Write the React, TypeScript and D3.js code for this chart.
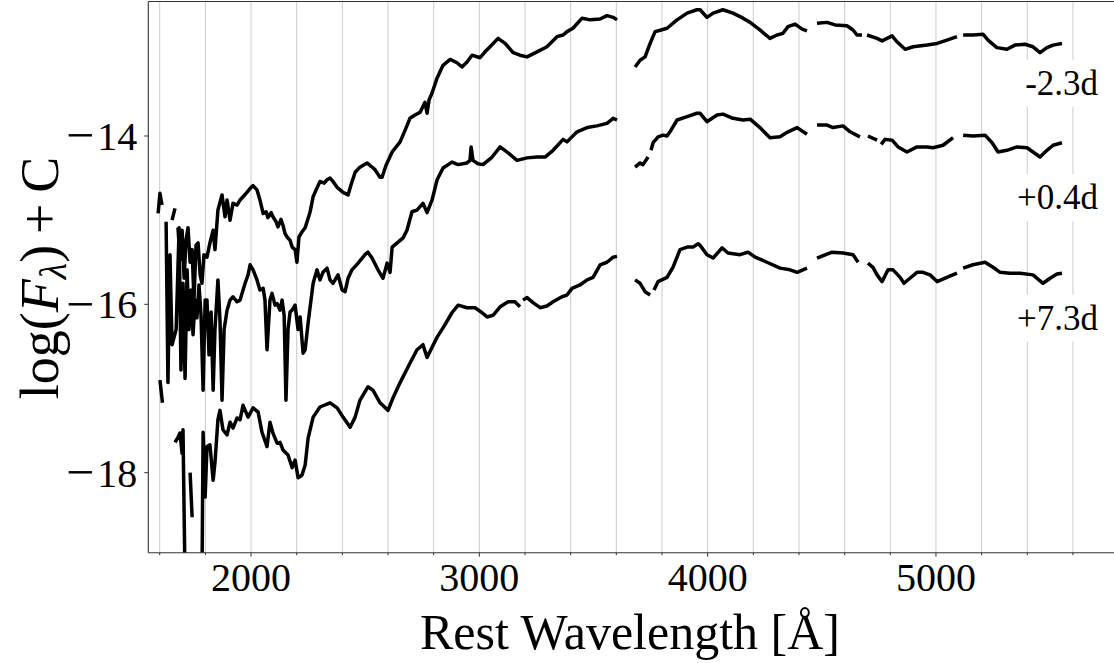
import React, { useEffect, useRef } from "react";
import * as d3 from "d3";

type Pt = [number, number] | null;

// Spectrum at -2.3 d : [rest wavelength (Å), log F + C]; null = gap
const spectrumMinus2p3: Pt[] = [
  [1593, -14.92], [1601, -14.68], [1610, -14.82], null,
  [1654, -15.0], [1667, -14.86], null,
  [1680, -15.09], [1689, -15.47], [1698, -15.12], [1707, -15.69], [1715, -15.24], [1724, -15.09], [1733, -15.5], [1742, -15.35], [1750, -15.95], [1759, -15.3], [1768, -15.27], [1777, -15.65], [1785, -15.75], [1794, -15.41], [1807, -15.44], [1820, -15.27], [1834, -15.12], [1842, -15.35], [1855, -14.88], [1873, -14.7], [1886, -14.96], [1895, -14.76], [1908, -15.0], [1921, -14.8], [1939, -14.82], [1952, -14.76], [1969, -14.71], [1982, -14.67], [2000, -14.61], [2009, -14.59], [2026, -14.64], [2039, -14.76], [2053, -14.92], [2066, -14.9], [2074, -14.97], [2088, -14.91], [2096, -14.96], [2110, -15.02], [2118, -15.08], [2131, -14.99], [2140, -15.06], [2149, -15.16], [2158, -15.2], [2171, -15.24], [2180, -15.32], [2193, -15.35], [2201, -15.5], [2210, -15.2], [2223, -15.14], [2237, -15.09], [2258, -14.91], [2272, -14.72], [2285, -14.64], [2302, -14.54], [2320, -14.56], [2333, -14.52], [2346, -14.5], [2359, -14.54], [2377, -14.61], [2403, -14.67], [2425, -14.7], [2438, -14.58], [2456, -14.43], [2477, -14.37], [2508, -14.32], [2526, -14.36], [2543, -14.4], [2565, -14.49], [2574, -14.49], [2591, -14.35], [2618, -14.19], [2653, -14.07], [2675, -13.93], [2696, -13.79], [2718, -13.75], [2740, -13.72], [2762, -13.6], [2771, -13.73], [2780, -13.57], [2793, -13.49], [2815, -13.31], [2841, -13.16], [2872, -13.09], [2902, -13.13], [2924, -13.18], [2946, -13.12], [2968, -13.04], [3003, -13.07], [3025, -13.0], [3047, -12.94], [3082, -12.84], [3113, -12.9], [3148, -13.01], [3178, -13.04], [3209, -13.06], [3253, -13.0], [3296, -12.94], [3340, -12.82], [3367, -12.8], [3384, -12.76], [3410, -12.72], [3450, -12.6], [3485, -12.62], [3529, -12.61], [3559, -12.57], [3586, -12.59], [3603, -12.62], null,
  [3682, -13.18], [3704, -13.1], [3726, -13.06], [3748, -12.9], [3770, -12.76], [3796, -12.74], [3822, -12.72], [3866, -12.62], [3910, -12.54], [3953, -12.5], [3967, -12.5], [3997, -12.59], [4024, -12.54], [4067, -12.5], [4111, -12.54], [4155, -12.6], [4186, -12.65], [4229, -12.74], [4273, -12.84], [4304, -12.8], [4330, -12.78], [4352, -12.7], [4383, -12.67], [4414, -12.73], [4435, -12.75], null,
  [4479, -12.66], [4523, -12.65], [4558, -12.68], [4610, -12.69], [4637, -12.74], [4654, -12.8], [4676, -12.8], null,
  [4698, -12.8], [4742, -12.84], [4764, -12.87], [4808, -12.81], [4829, -12.88], [4865, -12.97], [4900, -12.94], [4961, -12.92], [5005, -12.9], [5048, -12.86], [5092, -12.82], null,
  [5119, -12.8], [5162, -12.8], [5206, -12.79], [5228, -12.86], [5267, -12.95], [5311, -12.97], [5346, -12.92], [5390, -12.91], [5425, -12.94], [5456, -13.01], [5486, -12.95], [5513, -12.92], [5552, -12.9],
];

// Spectrum at +0.4 d
const spectrumPlus0p4: Pt[] = [
  [1601, -16.9], [1612, -17.17], null,
  [1628, -15.02], [1636, -16.93], [1645, -15.41], [1654, -16.48], [1672, -16.3], [1685, -15.09], [1693, -16.78], [1702, -15.75], [1711, -16.88], [1720, -15.59], [1728, -16.3], [1737, -15.83], [1746, -16.36], [1755, -15.95], [1763, -16.16], [1772, -15.77], [1781, -16.13], [1790, -17.02], [1799, -15.95], [1807, -15.95], [1816, -16.6], [1825, -16.09], [1834, -17.02], [1842, -16.3], [1855, -15.71], [1864, -16.19], [1873, -17.14], [1882, -16.3], [1895, -16.07], [1908, -15.95], [1921, -15.91], [1939, -15.97], [1952, -15.95], [1965, -15.83], [1974, -15.75], [1987, -15.65], [1996, -15.53], [2009, -15.59], [2026, -15.71], [2039, -15.83], [2053, -15.81], [2061, -15.95], [2070, -16.54], [2083, -15.95], [2092, -15.87], [2105, -16.01], [2114, -15.99], [2127, -16.07], [2136, -15.95], [2145, -16.13], [2153, -17.14], [2162, -16.3], [2171, -16.09], [2180, -16.07], [2193, -16.01], [2206, -16.3], [2215, -16.15], [2228, -16.58], [2237, -16.54], [2250, -16.22], [2272, -15.75], [2289, -15.59], [2302, -15.71], [2315, -15.62], [2333, -15.57], [2346, -15.71], [2359, -15.75], [2381, -15.65], [2399, -15.83], [2412, -15.85], [2425, -15.69], [2442, -15.59], [2469, -15.51], [2499, -15.41], [2512, -15.38], [2530, -15.45], [2556, -15.59], [2578, -15.69], [2596, -15.51], [2609, -15.62], [2618, -15.32], [2644, -15.26], [2666, -15.21], [2683, -15.12], [2705, -14.9], [2727, -14.88], [2753, -14.8], [2771, -14.91], [2793, -14.76], [2815, -14.52], [2841, -14.38], [2880, -14.31], [2907, -14.34], [2946, -14.32], [2959, -14.29], [2964, -14.13], [2972, -14.29], [2994, -14.33], [3016, -14.34], [3056, -14.25], [3091, -14.13], [3126, -14.2], [3165, -14.29], [3209, -14.26], [3253, -14.25], [3288, -14.25], [3323, -14.17], [3367, -14.04], [3384, -14.07], [3428, -13.95], [3472, -13.9], [3515, -13.88], [3559, -13.85], [3586, -13.79], [3603, -13.81], null,
  [3682, -14.37], [3704, -14.32], [3717, -14.34], [3739, -14.25], null,
  [3752, -14.17], [3761, -14.08], [3783, -14.01], [3805, -13.99], [3822, -14.0], [3835, -13.95], [3866, -13.81], [3910, -13.77], [3953, -13.73], [3967, -13.73], [3997, -13.83], [4041, -13.75], [4067, -13.74], [4111, -13.79], [4155, -13.81], [4186, -13.8], [4229, -13.9], [4273, -14.02], [4317, -14.01], [4352, -13.95], [4392, -13.9], [4435, -13.98], null,
  [4479, -13.87], [4523, -13.87], [4549, -13.9], [4593, -13.88], [4624, -13.95], [4667, -14.01], null,
  [4702, -14.0], [4742, -14.05], null,
  [4760, -14.1], [4777, -14.04], [4808, -14.05], [4834, -14.13], [4873, -14.19], [4917, -14.13], [4961, -14.13], [4987, -14.14], [5031, -14.11], [5075, -14.02], null,
  [5119, -13.99], [5162, -14.0], [5215, -13.99], [5246, -14.08], [5272, -14.19], [5311, -14.17], [5355, -14.13], [5399, -14.14], [5425, -14.19], [5456, -14.25], [5486, -14.17], [5513, -14.11], [5552, -14.08],
];

// Spectrum at +7.3 d
const spectrumPlus7p3: Pt[] = [
  [1667, -17.64], [1680, -17.58], [1689, -17.53], [1698, -17.77], [1702, -17.49], [1711, -19.3], null,
  [1733, -18.0], [1742, -18.53], null,
  [1785, -19.3], [1790, -17.52], [1799, -18.29], [1807, -17.69], [1820, -17.67], [1834, -18.09], [1842, -17.88], [1855, -17.37], [1864, -17.26], [1877, -17.49], [1895, -17.55], [1908, -17.4], [1921, -17.47], [1939, -17.35], [1952, -17.37], [1965, -17.2], [1987, -17.34], [2009, -17.23], [2031, -17.28], [2048, -17.52], [2070, -17.69], [2083, -17.4], [2096, -17.53], [2114, -17.65], [2127, -17.64], [2140, -17.73], [2162, -17.79], [2180, -17.94], [2193, -17.85], [2206, -18.06], [2223, -18.03], [2237, -17.91], [2250, -17.59], [2272, -17.34], [2302, -17.22], [2346, -17.17], [2377, -17.23], [2403, -17.34], [2434, -17.46], [2456, -17.34], [2477, -17.14], [2512, -16.98], [2534, -17.02], [2565, -17.17], [2600, -17.26], [2622, -17.11], [2653, -16.93], [2696, -16.7], [2727, -16.54], [2753, -16.48], [2771, -16.63], [2793, -16.51], [2815, -16.39], [2841, -16.28], [2880, -16.1], [2907, -16.01], [2946, -16.04], [2981, -16.04], [3012, -16.1], [3034, -16.15], [3060, -16.13], [3091, -16.03], [3126, -15.97], [3156, -15.97], [3178, -16.03], null,
  [3191, -15.95], [3209, -15.92], [3235, -15.98], [3266, -16.04], [3296, -16.02], [3323, -15.97], [3362, -15.91], [3384, -15.89], [3406, -15.81], [3441, -15.77], [3472, -15.71], [3498, -15.68], [3529, -15.53], [3559, -15.5], [3586, -15.44], [3603, -15.43], null,
  [3682, -15.71], [3704, -15.75], [3726, -15.85], [3748, -15.89], null,
  [3765, -15.83], [3783, -15.73], [3822, -15.68], [3848, -15.56], [3879, -15.35], [3910, -15.32], [3936, -15.32], [3958, -15.28], [3967, -15.3], [3997, -15.41], [4024, -15.45], [4063, -15.33], [4089, -15.39], [4142, -15.41], [4177, -15.38], [4208, -15.44], [4260, -15.5], [4317, -15.57], [4361, -15.59], [4392, -15.62], [4435, -15.57], null,
  [4479, -15.45], [4545, -15.38], [4593, -15.39], [4637, -15.41], [4659, -15.5], null,
  [4702, -15.51], [4724, -15.56], [4742, -15.65], [4764, -15.73], [4790, -15.59], [4812, -15.59], [4843, -15.68], [4860, -15.75], [4886, -15.69], [4917, -15.62], [4943, -15.62], [4974, -15.65], [5005, -15.73], [5048, -15.68], [5092, -15.63], null,
  [5119, -15.57], [5162, -15.53], [5215, -15.5], [5250, -15.56], [5281, -15.62], [5324, -15.63], [5368, -15.63], [5425, -15.65], [5469, -15.75], [5500, -15.69], [5530, -15.64], [5552, -15.63],
];

const spectra: Pt[][] = [spectrumMinus2p3, spectrumPlus0p4, spectrumPlus7p3];

const phaseLabels = ["-2.3d", "+0.4d", "+7.3d"];
const phaseLabelWave = [5710, 5710, 5710];
const phaseLabelFlux = [-13.51, -14.87, -16.3];

const xMajorTicks = [2000, 3000, 4000, 5000];
const xGridTicks = [1600, 1800, 2000, 2200, 2400, 2600, 2800, 3000, 3200, 3400, 3600, 3800, 4000, 4200, 4400, 4600, 4800, 5000, 5200, 5400, 5600, 5800];
const yTicks = [-14, -16, -18];
const xDomain = [1550, 5800];
const yDomain = [-18.951, -12.402];

const FONT = "'Liberation Serif', 'DejaVu Serif', serif";

export default function App() {
  const ref = useRef<SVGSVGElement>(null);

  useEffect(() => {
    const W = 1114, H = 663;
    const plot = { left: 148.3, right: 1118.6, top: 1.5, bottom: 552.7 };
    const svg = d3.select(ref.current);
    svg.selectAll("*").remove();

    const x = d3.scaleLinear().domain(xDomain).range([plot.left, plot.right]);
    const y = d3.scaleLinear().domain(yDomain).range([plot.bottom, plot.top]);

    svg.append("rect").attr("width", W).attr("height", H).attr("fill", "#fff");

    svg.append("defs").append("clipPath").attr("id", "plotclip")
      .append("rect")
      .attr("x", plot.left).attr("y", plot.top)
      .attr("width", plot.right - plot.left).attr("height", plot.bottom - plot.top);

    // vertical grid
    svg.append("g").selectAll("line").data(xGridTicks).join("line")
      .attr("x1", d => x(d)).attr("x2", d => x(d))
      .attr("y1", plot.top).attr("y2", plot.bottom)
      .attr("stroke", "#cccccc").attr("stroke-width", 1);

    // spectra
    const line = d3.line<Pt>()
      .defined(d => d !== null)
      .x(d => x((d as [number, number])[0]))
      .y(d => y((d as [number, number])[1]));

    const g = svg.append("g").attr("clip-path", "url(#plotclip)");
    spectra.forEach(s => {
      g.append("path").attr("d", line(s) as string)
        .attr("fill", "none").attr("stroke", "#000")
        .attr("stroke-width", 3.5).attr("stroke-linejoin", "round").attr("stroke-linecap", "butt");
    });

    // phase labels with white boxes
    phaseLabels.forEach((t, i) => {
      const lg = svg.append("g");
      const txt = lg.append("text")
        .attr("x", x(phaseLabelWave[i])).attr("y", y(phaseLabelFlux[i]))
        .attr("text-anchor", "end")
        .attr("font-family", FONT).attr("font-size", 35).attr("fill", "#000")
        .text(t);
      const bb = (txt.node() as SVGTextElement).getBBox();
      lg.insert("rect", "text")
        .attr("x", bb.x - 7).attr("y", bb.y - 4)
        .attr("width", bb.width + 14).attr("height", bb.height + 8)
        .attr("fill", "#fff");
    });

    // spines
    const spine = "#333";
    svg.append("line").attr("x1", plot.left).attr("x2", plot.left).attr("y1", plot.top).attr("y2", plot.bottom).attr("stroke", spine).attr("stroke-width", 1.1);
    svg.append("line").attr("x1", plot.left).attr("x2", plot.right).attr("y1", plot.bottom).attr("y2", plot.bottom).attr("stroke", spine).attr("stroke-width", 1.1);
    svg.append("line").attr("x1", plot.left).attr("x2", plot.right).attr("y1", plot.top).attr("y2", plot.top).attr("stroke", spine).attr("stroke-width", 1.1);

    // x ticks
    svg.append("g").selectAll("line").data(xGridTicks).join("line")
      .attr("x1", d => x(d)).attr("x2", d => x(d))
      .attr("y1", plot.bottom).attr("y2", d => plot.bottom + (xMajorTicks.includes(d) ? 4 : 2.5))
      .attr("stroke", spine).attr("stroke-width", 1);
    svg.append("g").selectAll("text").data(xMajorTicks).join("text")
      .attr("x", d => x(d)).attr("y", plot.bottom + 38)
      .attr("text-anchor", "middle")
      .attr("font-family", FONT).attr("font-size", 40).attr("fill", "#000")
      .text(d => String(d));

    // y ticks
    svg.append("g").selectAll("line").data(yTicks).join("line")
      .attr("x1", plot.left - 4).attr("x2", plot.left)
      .attr("y1", d => y(d)).attr("y2", d => y(d))
      .attr("stroke", spine).attr("stroke-width", 1);
    const yt = svg.append("g").selectAll("text").data(yTicks).join("text")
      .attr("x", plot.left - 11).attr("y", d => y(d) + 14)
      .attr("text-anchor", "end")
      .attr("font-family", FONT).attr("font-size", 40).attr("fill", "#000");
    yt.append("tspan").attr("font-size", 50).attr("dy", 2.5).text("\u2212");
    yt.append("tspan").attr("dx", 3).attr("dy", -2.5).text(d => String(Math.abs(d)));

    // axis labels
    svg.append("text")
      .attr("x", 630).attr("y", 649)
      .attr("text-anchor", "middle")
      .attr("font-family", FONT).attr("font-size", 50).attr("fill", "#000")
      .text("Rest Wavelength [\u00c5]");

    const yl = svg.append("text")
      .attr("transform", "translate(58,278) rotate(-90)")
      .attr("text-anchor", "middle")
      .attr("font-family", FONT).attr("font-size", 54).attr("fill", "#000");
    yl.append("tspan").text("log(");
    yl.append("tspan").attr("font-style", "italic").text("F");
    yl.append("tspan").attr("font-style", "italic").attr("font-size", 38).attr("dy", 8).text("\u03bb");
    yl.append("tspan").attr("dy", -8).text(")\u2009+\u2009C");
  }, []);

  return (
    <div style={{ position: "absolute", left: 0, top: 0 }}>
      <svg ref={ref} width={1114} height={663} style={{ display: "block" }} />
    </div>
  );
}
